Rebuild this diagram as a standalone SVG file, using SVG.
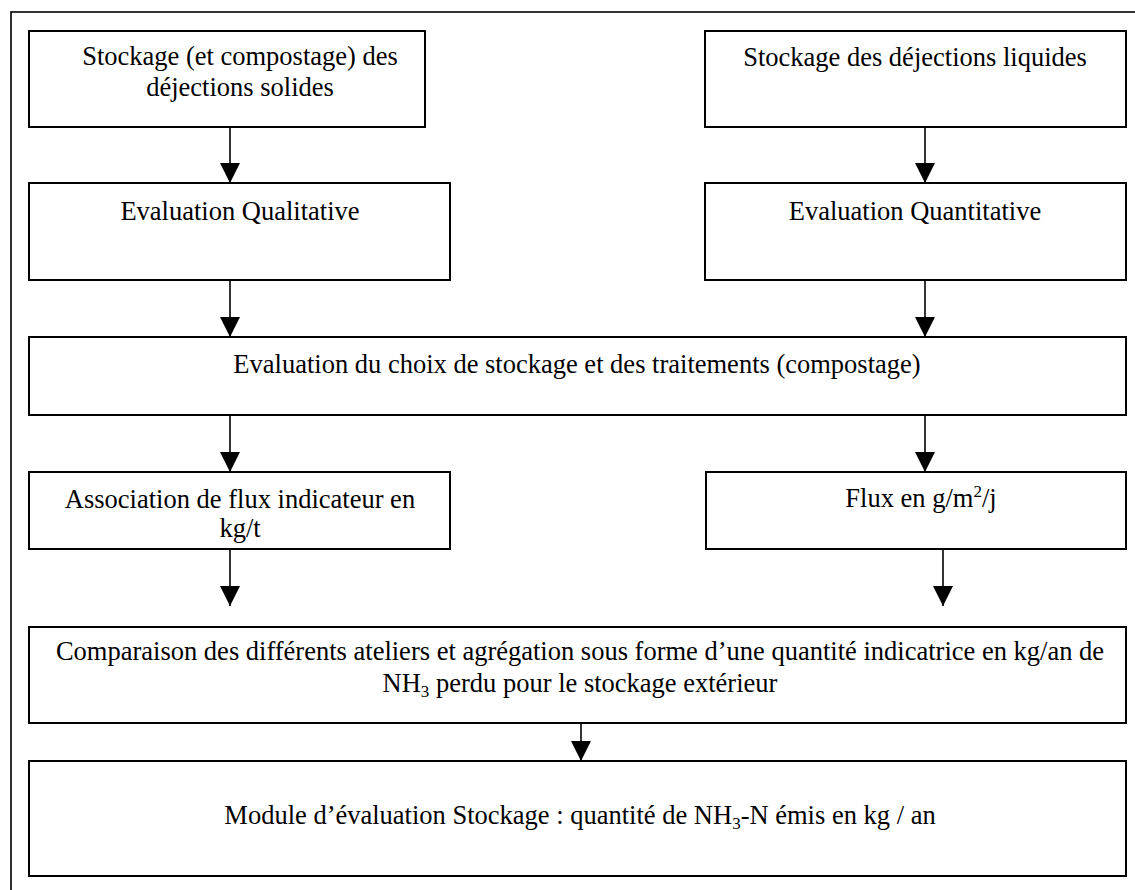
<svg xmlns="http://www.w3.org/2000/svg" width="1135" height="890" viewBox="0 0 1135 890">
<style>
.box{fill:#fff;stroke:#000;stroke-width:2}
.t{font-family:"Liberation Serif","Times New Roman",serif;font-size:26.5px;fill:#000;text-anchor:middle}
.c{stroke:#000;stroke-width:1.6;fill:none}
.frame{fill:none;stroke:#000;stroke-width:1.6}
</style>
<defs>
<marker id="ah" markerUnits="userSpaceOnUse" markerWidth="20" markerHeight="20" refX="20" refY="10" orient="auto" viewBox="0 0 20 20">
<path d="M0,0 L20,10 L0,20 Z" fill="#000"/>
</marker>
</defs>
<rect width="1135" height="890" fill="#fff"/>
<rect class="frame" x="11" y="12" width="1200" height="1000"/>
<g id="n1"><rect class="box" x="29" y="31" width="396" height="96"/>
<text class="t" x="240" y="65">Stockage (et compostage) des</text>
<text class="t" x="240" y="96">déjections solides</text></g>
<g id="n2"><rect class="box" x="705" y="31" width="421" height="96"/>
<text class="t" x="915" y="66">Stockage des déjections liquides</text></g>
<g id="n3"><rect class="box" x="29" y="183" width="421" height="97"/>
<text class="t" x="240" y="220">Evaluation Qualitative</text></g>
<g id="n4"><rect class="box" x="705" y="183" width="421" height="97"/>
<text class="t" x="915" y="220">Evaluation Quantitative</text></g>
<g id="n5"><rect class="box" x="29" y="337" width="1097" height="78"/>
<text class="t" x="577" y="373">Evaluation du choix de stockage et des traitements (compostage)</text></g>
<g id="n6"><rect class="box" x="29" y="472" width="421" height="77"/>
<text class="t" x="240" y="508">Association de flux indicateur en</text>
<text class="t" x="240" y="537">kg/t</text></g>
<g id="n7"><rect class="box" x="706" y="472" width="420" height="77"/>
<text class="t" x="921" y="507">Flux en g/m<tspan font-size="17" dy="-10">2</tspan><tspan dy="10">/j</tspan></text></g>
<g id="n8"><rect class="box" x="29" y="627" width="1097" height="96"/>
<text class="t" x="580" y="660">Comparaison des différents ateliers et agrégation sous forme d’une quantité indicatrice en kg/an de</text>
<text class="t" x="580" y="692">NH<tspan font-size="17" dy="5">3</tspan><tspan dy="-5"> perdu pour le stockage extérieur</tspan></text></g>
<g id="n9"><rect class="box" x="29" y="761" width="1097" height="115"/>
<text class="t" x="580" y="824">Module d’évaluation Stockage : quantité de NH<tspan font-size="17" dy="5">3</tspan><tspan dy="-5">-N émis en kg / an</tspan></text></g>
<g id="connectors">
<line class="c" x1="230" y1="127" x2="230" y2="183" marker-end="url(#ah)"/>
<line class="c" x1="925" y1="127" x2="925" y2="183" marker-end="url(#ah)"/>
<line class="c" x1="230" y1="280" x2="230" y2="337" marker-end="url(#ah)"/>
<line class="c" x1="925" y1="280" x2="925" y2="337" marker-end="url(#ah)"/>
<line class="c" x1="230" y1="415" x2="230" y2="472" marker-end="url(#ah)"/>
<line class="c" x1="925" y1="415" x2="925" y2="472" marker-end="url(#ah)"/>
<line class="c" x1="230" y1="549" x2="230" y2="606" marker-end="url(#ah)"/>
<line class="c" x1="943" y1="549" x2="943" y2="606" marker-end="url(#ah)"/>
<line class="c" x1="581" y1="723" x2="581" y2="761" marker-end="url(#ah)"/>
</g>
</svg>
